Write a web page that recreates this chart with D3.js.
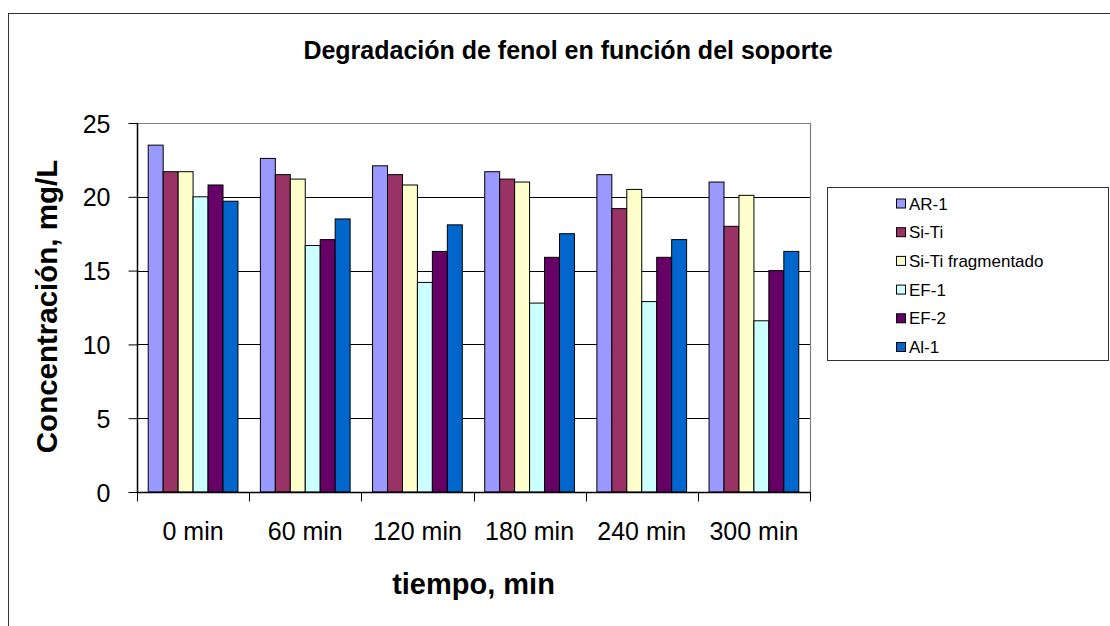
<!DOCTYPE html>
<html>
<head>
<meta charset="utf-8">
<script src="https://cdn.jsdelivr.net/npm/d3@7"></script>
<style>
  html, body { margin: 0; padding: 0; background: #fff; }
  svg { display: block; font-family: "Liberation Sans", Arial, sans-serif; }
</style>
</head>
<body>
<svg id="chart" width="1110" height="626"></svg>
<script>
const categories = ["0 min", "60 min", "120 min", "180 min", "240 min", "300 min"];
const seriesNames = ["AR-1", "Si-Ti", "Si-Ti fragmentado", "EF-1", "EF-2", "Al-1"];
const seriesColors = ["#9999FF", "#993366", "#FFFFCC", "#CCFFFF", "#660066", "#0066CC"];
const AR1   = [23.5, 22.6, 22.1, 21.7, 21.5, 21.0];
const SiTi  = [21.7, 21.5, 21.5, 21.2, 19.2, 18.0];
const SiTiF = [21.7, 21.2, 20.8, 21.0, 20.5, 20.1];
const EF1   = [20.0, 16.7, 14.2, 12.8, 12.9, 11.6];
const EF2   = [20.8, 17.1, 16.3, 15.9, 15.9, 15.0];
const Al1   = [19.7, 18.5, 18.1, 17.5, 17.1, 16.3];
const seriesValues = [AR1, SiTi, SiTiF, EF1, EF2, Al1];
const yTicks = [0, 5, 10, 15, 20, 25];
const titleText = "Degradación de fenol en función del soporte";
const xTitle = "tiempo, min";
const yTitle = "Concentración, mg/L";

const svg = d3.select("#chart");
const plot = { left: 137, right: 810, top: 123, bottom: 492 };

// chart area border
svg.append("rect").attr("x", 8.5).attr("y", 13.5).attr("width", 1200).attr("height", 700)
  .attr("fill", "#fff").attr("stroke", "#333").attr("stroke-width", 1);

const x0 = d3.scaleBand().domain(categories).range([plot.left, plot.right]).padding(0);
const gap = x0.bandwidth() * 1.5 / 7.5;
const x1 = d3.scaleBand().domain(seriesNames).range([gap / 2, x0.bandwidth() - gap / 2]).padding(0);
const y = d3.scaleLinear().domain([0, 25]).range([plot.bottom, plot.top]);

// gridlines
svg.append("g").selectAll("line").data(yTicks.filter(t => t > 0 && t < 25)).join("line")
  .attr("x1", plot.left).attr("x2", plot.right)
  .attr("y1", d => Math.round(y(d)) + 0.5).attr("y2", d => Math.round(y(d)) + 0.5)
  .attr("stroke", "#000").attr("stroke-width", 1);

// plot border top & right
svg.append("path")
  .attr("d", `M${plot.left},${plot.top + 0.5}H${plot.right + 0.5}V${plot.bottom}`)
  .attr("fill", "none").attr("stroke", "#808080").attr("stroke-width", 1.2);

// bars
const groups = svg.append("g").selectAll("g").data(categories).join("g")
  .attr("transform", d => `translate(${x0(d)},0)`);
groups.selectAll("rect").data((c, ci) => seriesNames.map((s, si) => ({ s, si, v: seriesValues[si][ci] })))
  .join("rect")
  .attr("x", d => x1(d.s)).attr("width", x1.bandwidth())
  .attr("y", d => y(d.v)).attr("height", d => y(0) - y(d.v))
  .attr("fill", d => seriesColors[d.si]).attr("stroke", "#000").attr("stroke-width", 1);

// y axis
const yAxis = d3.axisLeft(y).tickValues(yTicks).tickSize(9).tickPadding(0).tickFormat(d3.format("d"));
const yg = svg.append("g").attr("transform", `translate(${plot.left + 0.5},0)`).call(yAxis);
yg.select(".domain").attr("stroke", "#000").attr("stroke-width", 1.5).attr("d", `M0,${plot.top}V${plot.bottom}`);
yg.selectAll(".tick line").attr("stroke", "#000");
yg.selectAll(".tick text").attr("x", -27).attr("dy", "0.36em")
  .attr("font-size", 25).attr("fill", "#000").attr("font-family", "Liberation Sans, Arial, sans-serif");

// x axis
const xAxis = d3.axisBottom(x0).tickSize(0).tickPadding(0);
const xg = svg.append("g").attr("transform", `translate(0,${plot.bottom + 0.5})`).call(xAxis);
xg.select(".domain").attr("stroke", "#000").attr("stroke-width", 1.5).attr("d", `M${plot.left},0H${plot.right + 1}`);
xg.selectAll(".tick text").attr("y", 47).attr("dy", 0)
  .attr("font-size", 25).attr("fill", "#000").attr("font-family", "Liberation Sans, Arial, sans-serif");
// category boundary ticks
const boundaries = categories.map(c => x0(c)).concat([plot.right]);
xg.append("g").selectAll("line").data(boundaries).join("line")
  .attr("x1", d => Math.round(d) + 0.5).attr("x2", d => Math.round(d) + 0.5)
  .attr("y1", 0).attr("y2", 9).attr("stroke", "#000");

// title
svg.append("text").attr("x", 568).attr("y", 59).attr("text-anchor", "middle")
  .attr("font-size", 25).attr("font-weight", "bold").text(titleText);
// x title
svg.append("text").attr("x", (plot.left + plot.right) / 2).attr("y", 594).attr("text-anchor", "middle")
  .attr("font-size", 29).attr("font-weight", "bold").text(xTitle);
// y title
svg.append("text").attr("transform", `translate(57,${(plot.top + plot.bottom) / 2 - 1}) rotate(-90)`)
  .attr("text-anchor", "middle").attr("font-size", 29.5).attr("font-weight", "bold").text(yTitle);

// legend
const lg = svg.append("g");
lg.append("rect").attr("x", 827.5).attr("y", 187.5).attr("width", 281).attr("height", 173)
  .attr("fill", "#fff").attr("stroke", "#333").attr("stroke-width", 1);
const items = lg.selectAll("g.item").data(seriesNames).join("g").attr("class", "item")
  .attr("transform", (d, i) => `translate(896,${203.5 + i * 28.7})`);
items.append("rect").attr("x", 0.5).attr("y", -4.5).attr("width", 9).attr("height", 9)
  .attr("fill", (d, i) => seriesColors[i]).attr("stroke", "#000").attr("stroke-width", 1);
items.append("text").attr("x", 13).attr("y", 0).attr("dy", "0.36em")
  .attr("font-size", 17).attr("fill", "#000").text(d => d);
</script>
</body>
</html>
